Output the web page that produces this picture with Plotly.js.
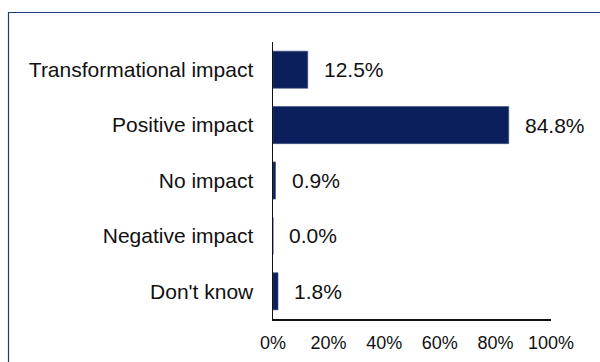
<!DOCTYPE html>
<html>
<head>
<meta charset="utf-8">
<script src="https://cdn.plot.ly/plotly-3.0.1.min.js"></script>
<style>
html,body{margin:0;padding:0;background:#fff;}
#chart{width:600px;height:362px;}
</style>
</head>
<body>
<div id="chart"></div>
<script>
const categories = ["Transformational impact", "Positive impact", "No impact", "Negative impact", "Don't know"];
const values = [12.5, 84.8, 0.9, 0.0, 1.8];
const valueLabels = ["12.5%", "84.8%", "0.9%", "0.0%", "1.8%"];
const xTickVals = [0, 20, 40, 60, 80, 100];
const xTickText = ["0%", "20%", "40%", "60%", "80%", "100%"];

const FONT = "Arial, 'Liberation Sans', sans-serif";

const trace = {
  type: "bar",
  orientation: "h",
  x: values,
  y: categories,
  marker: {color: "#0b1f5c", line: {color: "#3a4f86", width: 0.6}},
  hoverinfo: "none"
};

const annotations = values.map((v, i) => ({
  x: v, y: categories[i], xref: "x", yref: "y",
  text: valueLabels[i], showarrow: false,
  xanchor: "left", yanchor: "middle", xshift: 14,
  font: {family: FONT, size: 21, color: "#111"}
}));

const layout = {
  width: 600, height: 362,
  margin: {l: 273, r: 49, t: 42, b: 43, pad: 0},
  paper_bgcolor: "#fff", plot_bgcolor: "#fff",
  showlegend: false,
  bargap: 0.33,
  font: {family: FONT, color: "#111"},
  xaxis: {
    range: [0, 100], tickvals: xTickVals, ticktext: xTickText,
    showgrid: false, zeroline: false, showline: true, linecolor: "#111", linewidth: 1.5,
    ticks: "", tickfont: {family: FONT, size: 18, color: "#111"},
    ticklabelstandoff: 7, fixedrange: true
  },
  yaxis: {
    type: "category", categoryorder: "array", categoryarray: categories,
    autorange: "reversed",
    showgrid: false, zeroline: false, showline: true, linecolor: "#111", linewidth: 1.5,
    ticks: "", tickfont: {family: FONT, size: 21, color: "#111"},
    ticklabelstandoff: 14, fixedrange: true
  },
  shapes: [{
    type: "rect", xref: "paper", yref: "paper", layer: "below",
    x0: (8.5 - 273) / 278, x1: (610 - 273) / 278,
    y0: (319 - 375) / 277, y1: (319 - 12.5) / 277,
    line: {color: "#1f3a7a", width: 1.2}, fillcolor: "rgba(0,0,0,0)"
  }],
  annotations: annotations
};

Plotly.newPlot("chart", [trace], layout, {displayModeBar: false, staticPlot: true});
</script>
</body>
</html>
